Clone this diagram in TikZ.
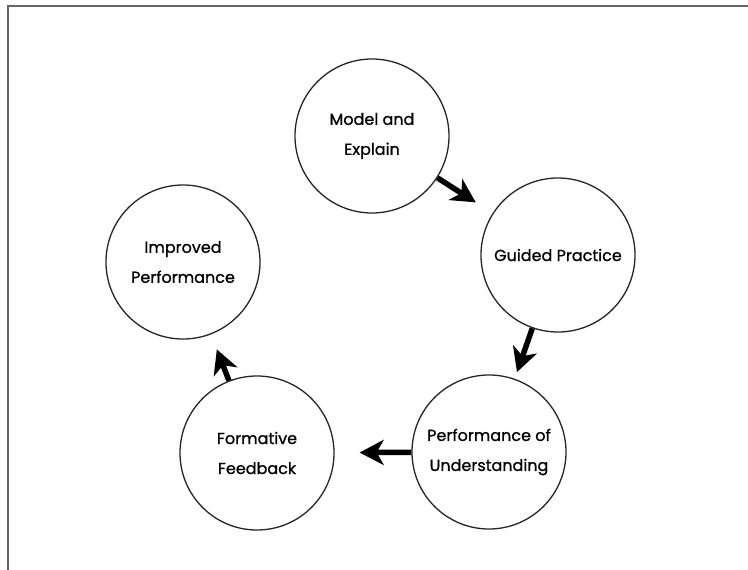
\documentclass[tikz,border=0pt]{standalone}
\usepackage{fontspec}
\newfontfamily\stagefont{Poppins}[FakeBold=0.9]
\usetikzlibrary{arrows.meta}
\begin{document}
\begin{tikzpicture}[x=1pt,y=-1pt,
  stage/.style={circle,draw=black!85,line width=1.3pt,minimum size=154pt,inner sep=0pt,align=center,font=\stagefont\fontsize{16}{30}\selectfont},
  flow/.style={line width=5.5pt,-{Stealth[length=24pt,width=25pt,inset=7pt]}}]
\useasboundingbox (0,0) rectangle (748,570);
\draw[black!60,line width=1.5pt] (8,572) -- (8,6) -- (750,6);
\node[stage] (m) at (372,136) {Model and\\Explain};
\node[stage] (g) at (558,255) {Guided Practice};
\node[stage] (p) at (489,452) {Performance of\\Understanding};
\node[stage] (f) at (257,453) {Formative\\Feedback};
\node[stage] (i) at (183,262) {Improved\\Performance};
\draw[flow,shorten >=20pt] (m) -- (g);
\draw[flow,shorten >=7pt,shorten <=0pt] (g) -- (p);
\draw[flow,shorten >=25pt] (p) -- (f);
\draw[flow,shorten >=16pt] (f) -- (i);
\end{tikzpicture}
\end{document}
